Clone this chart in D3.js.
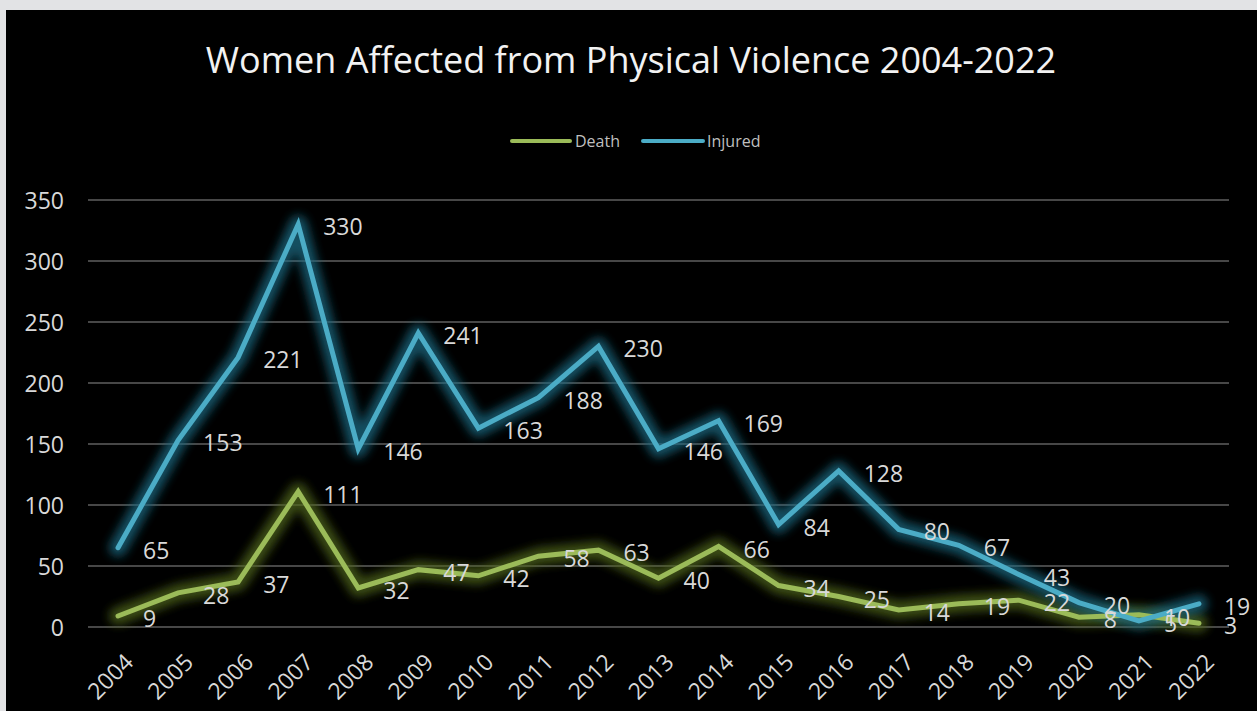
<!DOCTYPE html>
<html><head><meta charset="utf-8">
<script src="https://cdn.jsdelivr.net/npm/d3@7/dist/d3.min.js"></script>
<style>
html,body{margin:0;padding:0;background:#e2e3e5;}
svg{display:block;}
</style></head>
<body>
<script>
const years = ["2004","2005","2006","2007","2008","2009","2010","2011","2012","2013","2014","2015","2016","2017","2018","2019","2020","2021","2022"];
const death = [9,28,37,111,32,47,42,58,63,40,66,34,25,14,19,22,8,10,3];
const injured = [65,153,221,330,146,241,163,188,230,146,169,84,128,80,67,43,20,5,19];
const yTicks = [0,50,100,150,200,250,300,350];
const seriesNames = ["Death","Injured"];
const seriesColors = ["#9bbb59","#4bacc6"];
const glowColors = ["#4f661c","#1a6a82"];

(function(){
const W = 1257, H = 711;
const font = "'Open Sans', 'Noto Sans', sans-serif";
const svg = d3.select("body").append("svg").attr("width", W).attr("height", H);

svg.append("rect").attr("x",0).attr("y",0).attr("width",W).attr("height",H).attr("fill","#e2e3e5");
svg.append("rect").attr("x",6).attr("y",10).attr("width",W-6).attr("height",H-10).attr("fill","#000");

const defs = svg.append("defs");
seriesNames.forEach((n,i)=>{
  const f = defs.append("filter").attr("id","glow"+i).attr("x","-20%").attr("y","-20%").attr("width","140%").attr("height","140%");
  f.append("feGaussianBlur").attr("stdDeviation",5);
});

const pl = 88, pr = 1229, pt = 200, pb = 627;
const x = d3.scaleBand().domain(years).range([pl,pr]);
const y = d3.scaleLinear().domain([0,350]).range([pb,pt]);
const cx = d => x(d) + x.bandwidth()/2;

svg.append("g").selectAll("line").data(yTicks).join("line")
  .attr("x1",pl).attr("x2",pr)
  .attr("y1",d=>y(d)).attr("y2",d=>y(d))
  .attr("stroke","#5f5f5f").attr("stroke-width",1.5);

const yAxis = d3.axisLeft(y).tickValues(yTicks).tickSize(0).tickPadding(0);
const gy = svg.append("g").attr("transform",`translate(64,0)`).call(yAxis);
gy.select(".domain").remove();
gy.selectAll("text").attr("fill","#d9d9d9").style("font-family",font).style("font-size","23px").attr("dy","0.35em");

const xAxis = d3.axisBottom(x).tickSize(0).tickPadding(0);
const gx = svg.append("g").attr("transform",`translate(0,${pb})`).call(xAxis);
gx.select(".domain").remove();
gx.selectAll(".tick text")
  .attr("fill","#d9d9d9").style("font-family",font).style("font-size","23px")
  .attr("text-anchor","end").attr("dy","0.35em").attr("y",0)
  .attr("transform","translate(11,31) rotate(-45)");

svg.append("text").attr("x",631).attr("y",73).attr("text-anchor","middle")
  .attr("fill","#f2f2f2").style("font-family",font).style("font-size","36px")
  .text("Women Affected from Physical Violence 2004-2022");

const legend = [{x1:512,x2:570,tx:575},{x1:643,x2:703,tx:707}];
legend.forEach((l,i)=>{
  svg.append("line").attr("x1",l.x1).attr("x2",l.x2).attr("y1",141).attr("y2",141)
    .attr("stroke",seriesColors[i]).attr("stroke-width",4).attr("stroke-linecap","round");
  svg.append("text").attr("x",l.tx).attr("y",141).attr("dy","0.35em")
    .attr("fill","#bfbfbf").style("font-family",font).style("font-size","16px").text(seriesNames[i]);
});

const line = d3.line().x((d,i)=>cx(years[i])).y(d=>y(d));
const data = [death, injured];

data.forEach((s,i)=>{
  svg.append("path").datum(s).attr("d",line).attr("fill","none")
    .attr("stroke",glowColors[i]).attr("stroke-opacity",0.75).attr("stroke-width",18)
    .attr("stroke-linejoin","round").attr("stroke-linecap","round").attr("filter",`url(#glow${i})`);
});
data.forEach((s,i)=>{
  svg.append("path").datum(s).attr("d",line).attr("fill","none")
    .attr("stroke",seriesColors[i]).attr("stroke-width",5)
    .attr("stroke-linejoin","miter").attr("stroke-linecap","round");
});
data.forEach((s,i)=>{
  svg.append("g").selectAll("text").data(s).join("text")
    .attr("x",(d,j)=>cx(years[j])+25)
    .attr("y",d=>y(d)+3)
    .attr("dy","0.35em")
    .attr("fill","#d9d9d9").style("font-family",font).style("font-size","23px")
    .text(d=>d);
});
})();
</script>
</body></html>
